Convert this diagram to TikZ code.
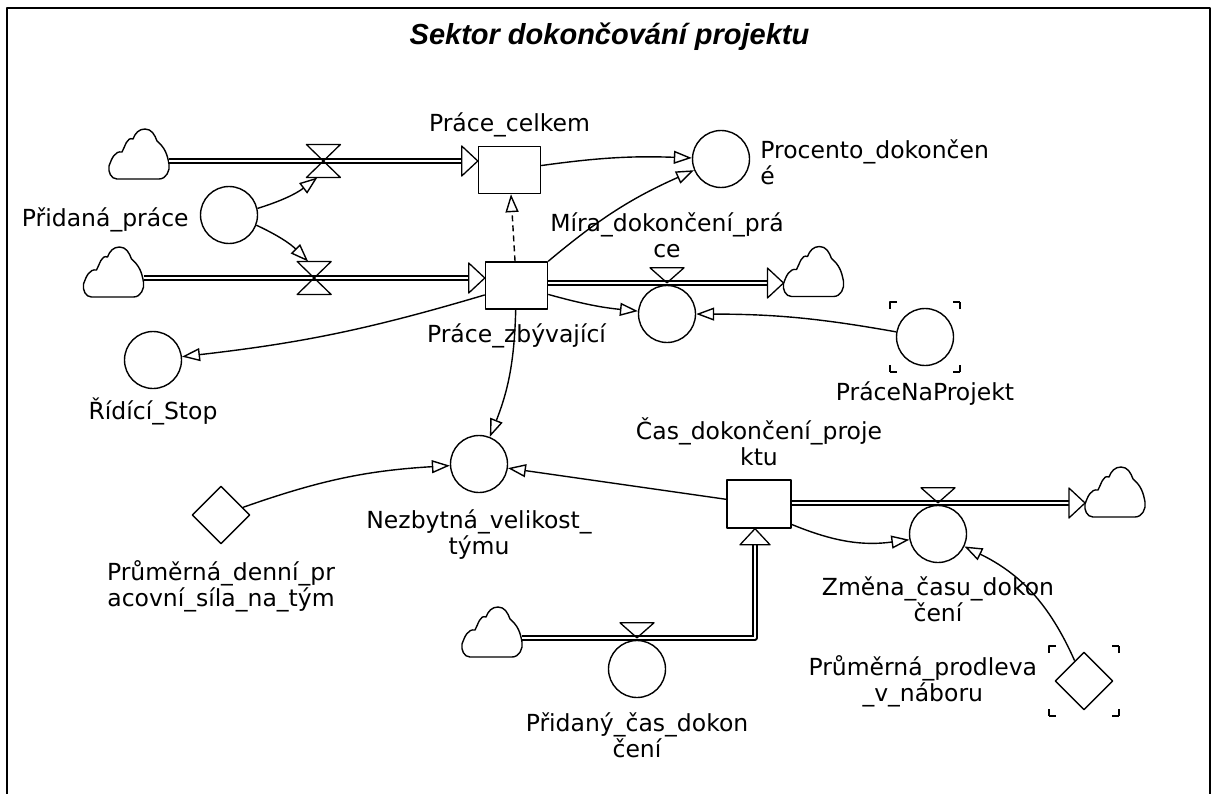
\documentclass[tikz,border=0pt]{standalone}
\usepackage{fontspec}
\setmainfont{DejaVu Sans}
\newfontfamily\headfont{Liberation Sans}
\usepackage{tikz}
\usetikzlibrary{arrows.meta,positioning,shapes.geometric}
\tikzset{
  sdline/.style={line width=1.4pt},
  aux/.style={draw, circle, sdline, minimum size=57pt, inner sep=0pt},
  stock/.style={draw, rectangle, sdline, minimum width=62pt, minimum height=47pt, inner sep=0pt},
  constbox/.style={draw, diamond, sdline, minimum width=58pt, minimum height=58pt, inner sep=0pt},
  ghost/.style={draw, line width=1.2pt, minimum size=70pt, inner sep=0pt,
    dash pattern=on 7pt off 56pt on 7pt off 0pt},
  cloudbox/.style={minimum width=60pt, minimum height=50pt, inner sep=0pt, outer sep=0pt},
  valvebox/.style={minimum width=34pt, minimum height=33pt, inner sep=0pt, outer sep=0pt},
  lbl/.style={font=\fontsize{23.5}{26}\selectfont, align=center, inner sep=0pt},
  conn/.style={-{Triangle[open, length=18pt, width=13pt]}, line width=1.4pt},
  pipe/.style={double, line width=1.3pt, double distance=2.7pt, shorten >=15pt},
  pipehead/.style={draw, fill=white, line width=1.3pt, isosceles triangle,
    isosceles triangle apex angle=86, minimum height=16pt, minimum width=30pt,
    inner sep=0pt, outer sep=0pt},
  srcsink/.pic={
    \draw[sdline] (-22,25) -- (20,25) to[out=0,in=-80] (30,10) to[out=100,in=-40] (18,-13)
      to[out=110,in=0] (6,-25) to[out=180,in=70] (-6,-15) to[out=160,in=60] (-17,-2)
      to[out=170,in=70] (-30,12) to[out=-100,in=180] (-22,25) -- cycle;
  },
  bowtie/.pic={
    \draw[line width=1.3pt] (-17,-16.5) -- (17,-16.5) -- (-17,16.5) -- (17,16.5) -- cycle;
  },
  tap/.pic={
    \draw[line width=1.3pt] (0,0) -- (-17,-15) -- (17,-15) -- cycle;
  },
  every picture/.append style={line join=round}
}

\begin{document}
\begin{tikzpicture}[x=1pt, y=-1pt]
  \useasboundingbox (0,0) rectangle (1214,794);
  \draw[line width=2pt] (7,794) -- (7,8) -- (1210,8) -- (1210,794);
  \node[font=\headfont\bfseries\itshape\fontsize{29}{33}\selectfont, anchor=base] (title)
    at (609.5,45) {Sektor dokončování projektu};

  % stocks, auxiliaries and constants
  \node[stock] (celkem) at (509.5,170) {};
  \node[stock] (zbyv) at (516.5,285.5) {};
  \node[stock, minimum width=64pt, minimum height=48pt] (cas) at (759,504) {};
  \node[aux] (proc) at (721,159) {};
  \node[aux] (pridana) at (229,215) {};
  \node[aux] (mira) at (667,314) {};
  \node[aux] (ridici) at (153,360) {};
  \node[aux] (nezb) at (479,464) {};
  \node[aux] (zmena) at (938,534) {};
  \node[aux] (pnp) at (925,337) {};
  \node[ghost] (pnpg) at (pnp) {};
  \node[aux] (pcas) at (637,669) {};
  \node[constbox] (dnem) at (221,515) {};
  \node[constbox] (pprod) at (1084,681) {};
  \node[ghost] (pprodg) at (pprod) {};

  % sources and sinks
  \node[cloudbox] (c1) at (139,154) {};
  \node[cloudbox] (c2) at (113.5,272) {};
  \node[cloudbox] (c3) at (813.5,271.5) {};
  \node[cloudbox] (c4) at (1115,492) {};
  \node[cloudbox] (c5) at (492,632) {};
  \pic at (c1) {srcsink};
  \pic at (c2) {srcsink};
  \pic at (c3) {srcsink};
  \pic at (c4) {srcsink};
  \pic at (c5) {srcsink};

  % flows
  \draw[pipe] ([yshift=-7pt]c1.east) -- node[valvebox] (v1) {} ([yshift=9pt]celkem.west);
  \draw[pipe] ([yshift=-6pt]c2.east) -- node[valvebox] (v2) {} ([yshift=7.5pt]zbyv.west);
  \draw[pipe] ([yshift=2.5pt]zbyv.east) -- ([yshift=-11.5pt]c3.west);
  \draw[pipe] ([yshift=1pt]cas.east) -- ([yshift=-11pt]c4.west);
  \draw[pipe] ([yshift=-6pt]c5.east) -| ([xshift=-4pt]cas.south);
  \node[pipehead, anchor=apex] (h1) at ([yshift=9pt]celkem.west) {};
  \node[pipehead, anchor=apex] (h2) at ([yshift=7.5pt]zbyv.west) {};
  \node[pipehead, anchor=apex] (h3) at ([yshift=-11.5pt]c3.west) {};
  \node[pipehead, anchor=apex] (h4) at ([yshift=-11pt]c4.west) {};
  \node[pipehead, anchor=apex, shape border rotate=90] (h5) at ([xshift=-4pt]cas.south) {};
  \pic at (v1) {bowtie};
  \pic at (v2) {bowtie};
  \pic at ([yshift=2pt]mira.north) {tap};
  \pic at ([yshift=2pt]zmena.north) {tap};
  \pic at ([yshift=2pt]pcas.north) {tap};

  % links
  \draw[conn] (pridana) to[bend right=10] (v1.-110);
  \draw[conn] (pridana) to[bend left=10] (v2.110);
  \draw[conn] (celkem) to[bend left=5] (proc);
  \draw[conn] (zbyv.north east) to[bend left=8] (proc);
  \draw[conn, dash pattern=on 6pt off 4pt] (zbyv) -- (celkem);
  \draw[conn] (zbyv) to[bend right=5] (mira);
  \draw[conn] (pnp) to[bend right=5] (mira);
  \draw[conn] (zbyv) to[bend left=5] (ridici);
  \draw[conn] (zbyv) to[bend left=10] (nezb);
  \draw[conn] (dnem) to[bend left=8] (nezb);
  \draw[conn] (cas) -- (nezb);
  \draw[conn] (cas.-32) to[bend right=15] (zmena);
  \draw[conn] (pprod) to[bend right=20] (zmena);

  % names
  \node[lbl, above=9pt of celkem] (celkemL) {Práce\_celkem};
  \node[lbl, below=14pt of zbyv] (zbyvL) {Práce\_zbývající};
  \node[lbl, above=27pt of mira] (miraL) {Míra\_dokončení\_prá\\ce};
  \node[lbl, align=left, right=10pt of proc, yshift=-3pt] (procL) {Procento\_dokončen\\é};
  \node[lbl, left=11pt of pridana, yshift=-5pt] (pridanaL) {Přidaná\_práce};
  \node[lbl, below=15pt of pnp] (pnpL) {PráceNaProjekt};
  \node[lbl, below=8pt of ridici] (ridiciL) {Řídící\_Stop};
  \node[lbl, above=13pt of cas] (casL) {Čas\_dokončení\_proje\\ktu};
  \node[lbl, below=16pt of nezb] (nezbL) {Nezbytná\_velikost\_\\týmu};
  \node[lbl, below=16pt of dnem] (dnemL) {Průměrná\_denní\_pr\\acovní\_síla\_na\_tým};
  \node[lbl, below=13pt of zmena] (zmenaL) {Změna\_času\_dokon\\čení};
  \node[lbl, left=17pt of pprod] (pprodL) {Průměrná\_prodleva\\\_v\_náboru};
  \node[lbl, below=14pt of pcas] (pcasL) {Přidaný\_čas\_dokon\\čení};
\end{tikzpicture}
\end{document}
